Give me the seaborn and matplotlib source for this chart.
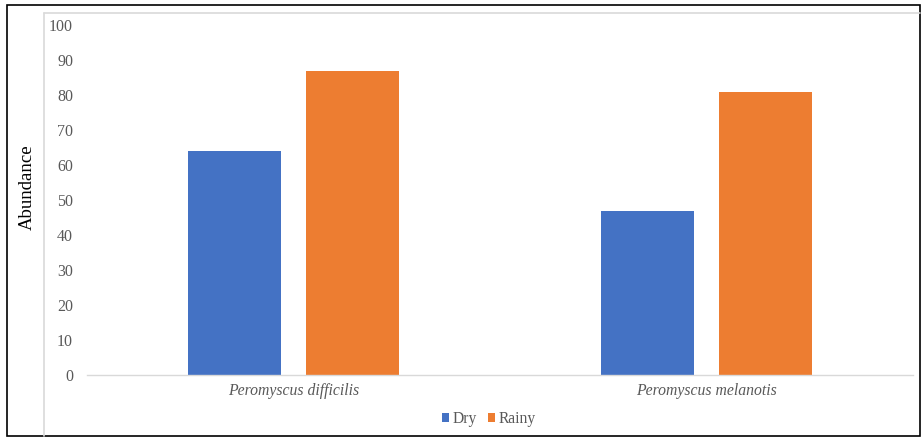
import matplotlib
matplotlib.use("Agg")
import matplotlib.pyplot as plt
from matplotlib.lines import Line2D
from matplotlib.patches import Rectangle
import seaborn as sns
import pandas as pd

species = ["Peromyscus difficilis", "Peromyscus melanotis"]
seasons = ["Dry", "Rainy"]
dry_values = [64, 47]
rainy_values = [87, 81]
yticks = [0, 10, 20, 30, 40, 50, 60, 70, 80, 90, 100]

df = pd.DataFrame({
    "species": species * 2,
    "season": ["Dry"] * len(species) + ["Rainy"] * len(species),
    "abundance": dry_values + rainy_values,
})

sns.set_theme(style="white")
plt.rcParams["font.family"] = ["Liberation Serif", "DejaVu Serif"]

W, H = 922, 437
fig = plt.figure(figsize=(W / 100, H / 100), dpi=100)
ax = fig.add_axes([87 / W, 1 - 375 / H, (913 - 87) / W, (375 - 25) / H])

palette = {"Dry": "#4472C4", "Rainy": "#ED7D31"}
sns.barplot(data=df, x="species", y="abundance", hue="season",
            hue_order=seasons, order=species, palette=palette,
            width=0.567, gap=0.205, ax=ax, legend=False,
            saturation=1, edgecolor="none")

ax.set_xlim(-0.5, 1.5)
ax.set_ylim(0, 100)
ax.set_yticks(yticks)
ax.set_yticklabels([str(t) for t in yticks])
for s in ["top", "right", "left"]:
    ax.spines[s].set_visible(False)
ax.spines["bottom"].set_color("#d9d9d9")
ax.spines["bottom"].set_linewidth(1.0)
ax.tick_params(axis="both", length=0, colors="#595959", labelsize=11.5)
ax.tick_params(axis="y", pad=10)
ax.tick_params(axis="x", pad=6)
for lbl in ax.get_xticklabels():
    lbl.set_fontstyle("italic")
    lbl.set_fontsize(11.3)
ax.set_xlabel("")
ax.set_ylabel("")

fig.text(27 / W, 1 - 187 / H, "Abundance", rotation=90, ha="center",
         va="center", fontsize=13.5, color="black")

handles = [Rectangle((0, 0), 1, 1, facecolor=palette[s], edgecolor="none")
           for s in seasons]
fig.legend(handles, seasons, loc="center", bbox_to_anchor=(489 / W, 1 - 419 / H),
           ncol=2, frameon=False, fontsize=11.2, handlelength=0.45,
           handleheight=0.45, handletextpad=0.25, columnspacing=0.7,
           labelcolor="#595959")

# outer chart border and inner chart-area lines
fig.add_artist(Rectangle((7 / W, 1 - 436 / H), (920 - 7) / W, (436 - 5) / H,
                         transform=fig.transFigure, fill=False,
                         edgecolor="black", linewidth=1.2))
fig.add_artist(Line2D([44 / W, 920 / W], [1 - 13 / H, 1 - 13 / H],
                      transform=fig.transFigure, color="#d9d9d9", linewidth=1.2))
fig.add_artist(Line2D([44 / W, 44 / W], [1 - 13 / H, 1 - 436 / H],
                      transform=fig.transFigure, color="#d9d9d9", linewidth=1.2))

fig.savefig("out.png", dpi=100)
